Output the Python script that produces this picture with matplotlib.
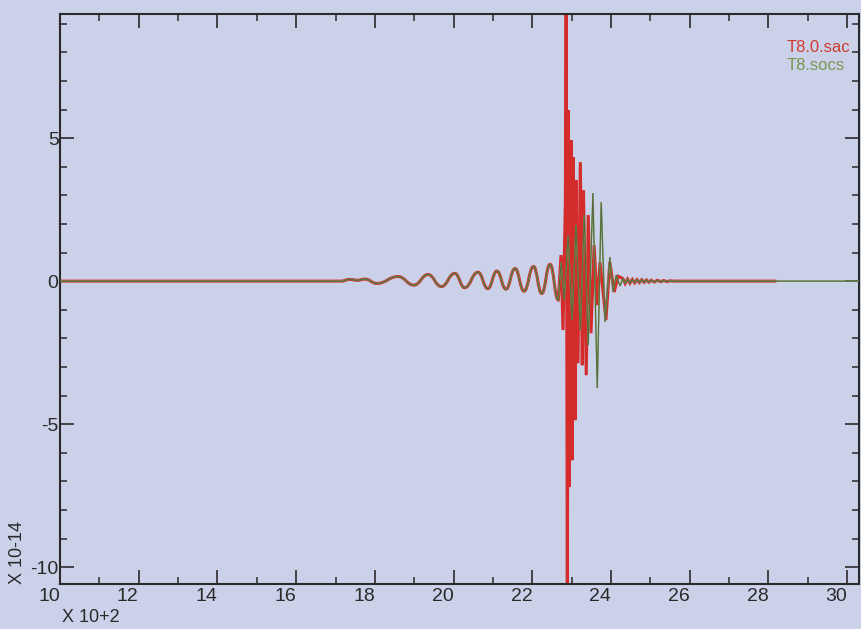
import matplotlib
matplotlib.use("Agg")
import matplotlib.pyplot as plt
from matplotlib.path import Path
from matplotlib.patches import PathPatch
from matplotlib.ticker import MultipleLocator

# ---- seismogram samples (time in units of 10^2 s, amplitude in units of 10^-14) ----
# dispersed surface-wave train shared by both traces (successive extrema)
wave_t = [10.0, 17.15, 17.35, 17.55, 17.75, 18.05, 18.59, 18.99, 19.35, 19.69,
          20.03, 20.28, 20.62, 20.87, 21.10, 21.33, 21.56, 21.79, 22.03, 22.24,
          22.45, 22.66]
wave_a = [0.0, 0.0, 0.06, 0.03, 0.07, -0.08, 0.16, -0.14, 0.23, -0.19,
          0.27, -0.23, 0.31, -0.26, 0.35, -0.28, 0.44, -0.35, 0.51, -0.43,
          0.59, -0.66]

# main arrival, T8.0.sac
red_t = [22.73, 22.78, 22.84, 22.86, 22.89, 22.91, 22.94, 22.99, 23.01, 23.04,
         23.09, 23.11, 23.16, 23.22, 23.27, 23.30, 23.37, 23.42, 23.49, 23.57,
         23.65, 23.72, 23.87, 23.97, 24.08, 24.18]
red_a = [0.91, -1.71, 2.83, 11.0, -12.0, 5.98, -7.20, 4.93, -6.26, 4.34,
         -4.86, 3.53, -2.87, 4.16, -2.94, 3.18, -3.29, 2.31, -1.82, 1.26,
         -0.84, 0.66, -1.36, 0.66, -0.38, 0.17]

# main arrival, T8.socs
green_t = [22.73, 22.81, 22.91, 23.01, 23.11, 23.22, 23.32, 23.42, 23.54, 23.65,
           23.75, 23.85, 23.97, 24.05, 24.13, 24.23]
green_a = [0.66, -0.66, 1.61, -1.36, 1.96, -1.71, 2.31, -2.24, 3.08, -3.74,
           2.76, -1.43, 0.84, -0.38, 0.21, -0.17]

# low-level coda after the arrival
coda_t = [24.30, 24.36, 24.42, 24.48, 24.54, 24.60, 24.66, 24.72, 24.78, 24.84,
          24.90, 24.96, 25.02, 25.10, 25.18, 25.26, 25.34, 25.42, 25.50, 25.60]
coda_a = [0.09, -0.08, 0.07, -0.07, 0.06, -0.06, 0.05, -0.05, 0.05, -0.04,
          0.04, -0.04, 0.03, -0.03, 0.03, -0.02, 0.02, -0.02, 0.01, 0.0]

red_end = 28.2      # last sample of T8.0.sac
green_end = 30.4    # last sample of T8.socs

xtick_vals = [10, 12, 14, 16, 18, 20, 22, 24, 26, 28, 30]
xtick_text = ["10", "12", "14", "16", "18", "20", "22", "24", "26", "28", "30"]
ytick_vals = [-10, -5, 0, 5]
ytick_text = ["-10", "-5", "0", "5"]
series_names = ["T8.0.sac", "T8.socs"]

# ---- style ----
BG = "#ccd1ea"
INK = "#2a2a2a"
RED = "#d42b2b"
GREEN = "#7a9f55"
DARK = "#4b5a3a"
FONT = ["Liberation Sans Narrow", "Liberation Sans", "DejaVu Sans"]
plt.rcParams["font.family"] = FONT


def trace_path(xs, ys, n_smooth):
    """Path through the extrema: the first n_smooth segments are drawn as
    smooth half-cycles (flat at each extremum), the rest as straight lines."""
    verts = [(xs[0], ys[0])]
    codes = [Path.MOVETO]
    for i in range(1, len(xs)):
        x0, y0, x1, y1 = xs[i - 1], ys[i - 1], xs[i], ys[i]
        if i <= n_smooth:
            h = (x1 - x0) * 0.45
            verts += [(x0 + h, y0), (x1 - h, y1), (x1, y1)]
            codes += [Path.CURVE4] * 3
        else:
            verts.append((x1, y1))
            codes.append(Path.LINETO)
    return Path(verts, codes)


W, H = 861, 629
fig = plt.figure(figsize=(W / 100, H / 100), dpi=100)
fig.patch.set_facecolor(BG)
ax = fig.add_axes([60 / W, 45 / H, 799 / W, 570 / H])
ax.set_facecolor(BG)

n_wave = len(wave_t) - 1
red_x = wave_t + red_t + coda_t + [red_end]
red_y = wave_a + red_a + coda_a + [0.0]
green_x = wave_t + green_t + coda_t + [green_end]
green_y = wave_a + green_a + coda_a + [0.0]

ax.add_patch(PathPatch(trace_path(red_x, red_y, n_wave), fill=False,
                       ec=RED, lw=2.2, zorder=2))
ax.add_patch(PathPatch(trace_path(green_x, green_y, n_wave), fill=False,
                       ec=GREEN, lw=1.1, zorder=3))
ax.add_patch(PathPatch(trace_path(green_x, green_y, n_wave), fill=False,
                       ec=DARK, lw=0.7, alpha=0.8, zorder=4))

ax.set_xlim(10, 30.3)
ax.set_ylim(-10.59, 9.34)

ax.set_xticks(xtick_vals)
ax.set_xticklabels(xtick_text, ha="right")
ax.set_yticks(ytick_vals)
ax.set_yticklabels(ytick_text)
ax.xaxis.set_minor_locator(MultipleLocator(1))
ax.yaxis.set_minor_locator(MultipleLocator(1))

ax.tick_params(which="both", direction="in", top=True, right=True,
               color=INK, labelcolor=INK, labelsize=14)
ax.tick_params(which="major", length=10, width=1.2)
ax.tick_params(which="minor", length=5, width=1.1)
ax.tick_params(axis="y", pad=1)
ax.tick_params(axis="x", pad=3)
for s in ax.spines.values():
    s.set_color(INK)
    s.set_linewidth(1.5)

# legend as coloured labels in the upper right corner
fig.text(787 / W, 1 - 47 / H, series_names[0], color="#cf3a30",
         fontsize=12, ha="left", va="center")
fig.text(787 / W, 1 - 65 / H, series_names[1], color="#7a9650",
         fontsize=12, ha="left", va="center")

fig.text(18 / W, 1 - 553 / H, "X 10-14", rotation=90, ha="center",
         va="center", fontsize=13, color=INK)
fig.text(62 / W, 1 - 618 / H, "X 10+2", ha="left", va="center",
         fontsize=13, color=INK)

fig.savefig("out.png", dpi=100, facecolor=BG)
